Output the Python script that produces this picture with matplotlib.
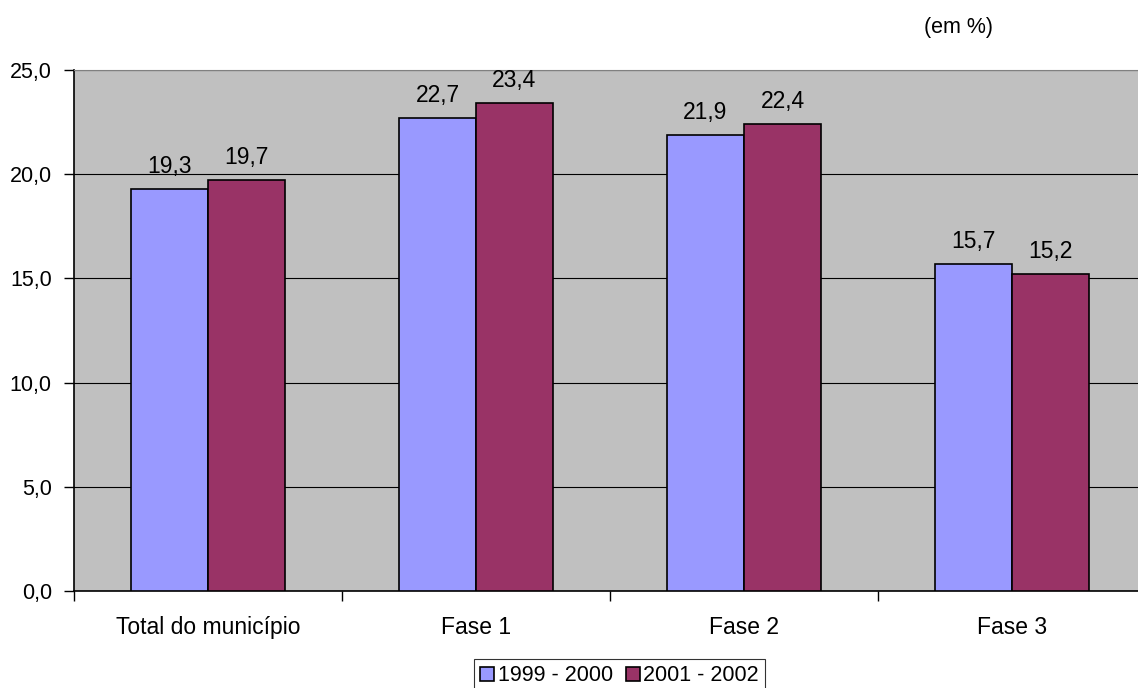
import matplotlib
matplotlib.use('Agg')
import matplotlib.pyplot as plt
import numpy as np

plt.rcParams['font.family'] = ['Liberation Sans', 'DejaVu Sans']

categorias = ['Total do município', 'Fase 1', 'Fase 2', 'Fase 3']
serie_1999 = [19.3, 22.7, 21.9, 15.7]
serie_2001 = [19.7, 23.4, 22.4, 15.2]
rotulos = ['1999 - 2000', '2001 - 2002']

W, H = 1138, 688
fig = plt.figure(figsize=(W / 100, H / 100), dpi=100)
ax = fig.add_axes([74 / W, (H - 591) / H, (1146 - 74) / W, (591 - 70) / H])
ax.set_facecolor('#c0c0c0')

x = np.arange(len(categorias))
w = 0.287
b1 = ax.bar(x - w / 2, serie_1999, w, color='#9999ff', edgecolor='black', linewidth=1.2,
            label=rotulos[0], zorder=3)
b2 = ax.bar(x + w / 2, serie_2001, w, color='#993366', edgecolor='black', linewidth=1.2,
            label=rotulos[1], zorder=3)

for bars in (b1, b2):
    for r in bars:
        v = r.get_height()
        ax.annotate(f'{v:.1f}'.replace('.', ','), (r.get_x() + r.get_width() / 2, v),
                    xytext=(0, 11.5), textcoords='offset points',
                    ha='center', va='baseline', fontsize=16.5)

ax.set_xlim(-0.5, 3.5)
ax.set_ylim(0, 25)
ax.set_yticks(np.arange(0, 26, 5))
ax.set_yticklabels([f'{v:.1f}'.replace('.', ',') for v in np.arange(0, 26, 5)], fontsize=15.5)
ax.yaxis.grid(True, color='black', linewidth=0.8, zorder=1)

# category labels centred, tick marks on the boundaries
ax.set_xticks(x)
ax.set_xticklabels(categorias, fontsize=16.5)
ax.tick_params(axis='x', length=0, pad=18)
ax.set_xticks(np.arange(-0.5, 3.6, 1), minor=True)
ax.tick_params(axis='x', which='minor', length=7, color='black', width=1)
ax.tick_params(axis='y', length=7, width=1, pad=9)

ax.spines['top'].set_color('#808080')
ax.spines['right'].set_visible(False)
ax.spines['left'].set_linewidth(1.2)
ax.spines['bottom'].set_linewidth(1.2)

fig.text(993 / W, 1 - 27 / H, '(em %)', ha='right', va='center', fontsize=15.5)

leg = fig.legend(handles=[b1, b2], loc='upper center', bbox_to_anchor=(619.5 / W, 1 - 659 / H),
                 ncol=2, fontsize=15.5, frameon=True, fancybox=False, edgecolor='black',
                 handlelength=0.65, handleheight=0.65, handletextpad=0.15, columnspacing=0.6,
                 borderpad=0.3, borderaxespad=0)
leg.get_frame().set_linewidth(0.8)

fig.savefig('out.png', dpi=100)
